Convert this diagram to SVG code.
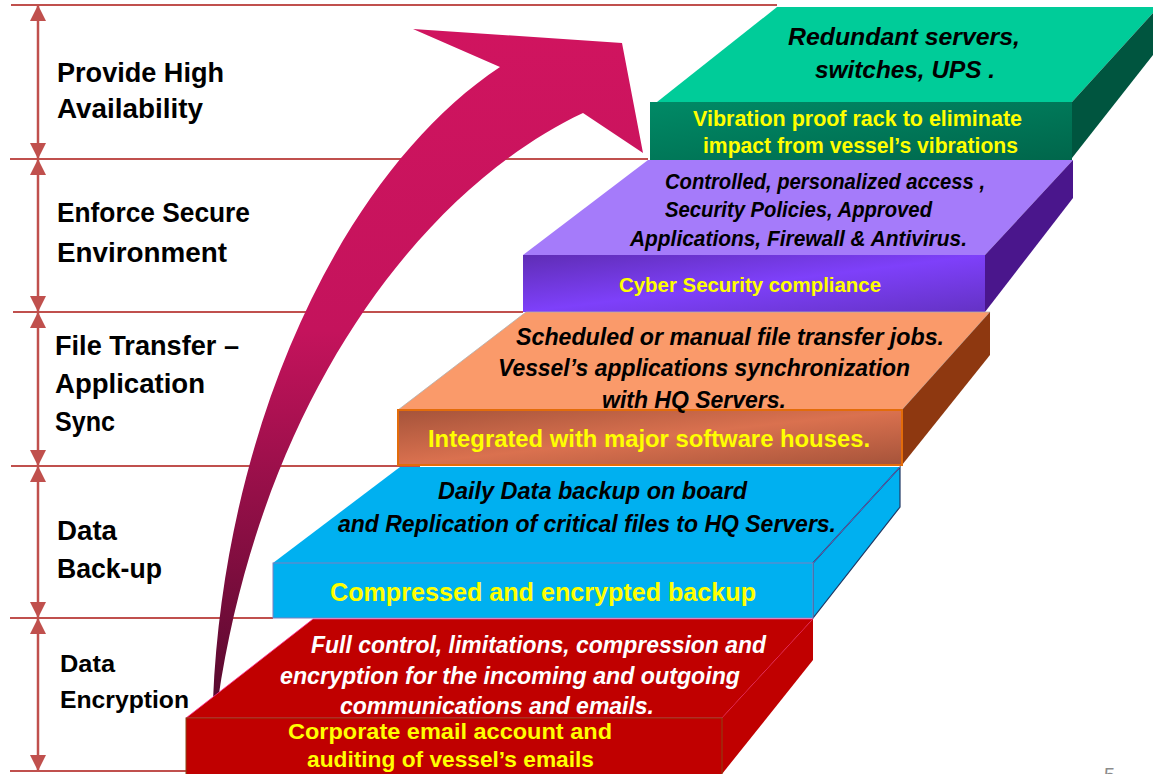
<svg xmlns="http://www.w3.org/2000/svg" width="1153" height="774" viewBox="0 0 1153 774">
<defs>
<style>
text{font-family:"Liberation Sans",Arial,sans-serif;font-weight:bold}
.lbl{font-size:27px;fill:#000}
.lbl2{font-size:24px;fill:#000}
.top{font-style:italic;font-size:23px;fill:#000}
.topw{font-style:italic;font-size:23px;fill:#fff}
.front{font-size:22px;fill:#ffff00}
.div{stroke:#C0504D;stroke-width:2;fill:none}
.dim{stroke:#C0504D;stroke-width:2.5;fill:none;marker-start:url(#ah);marker-end:url(#ah)}
</style>
<marker id="ah" viewBox="0 0 16 16" refX="15" refY="8" markerWidth="16" markerHeight="16" markerUnits="userSpaceOnUse" orient="auto-start-reverse">
<path d="M0,0 L16,8 L0,16 Z" fill="#C0504D"/>
</marker>
<linearGradient id="arrowGrad" gradientUnits="userSpaceOnUse" x1="0" y1="30" x2="0" y2="700">
<stop offset="0" stop-color="#D0145F"/>
<stop offset="0.45" stop-color="#C4135C"/>
<stop offset="1" stop-color="#580A2E"/>
</linearGradient>
<linearGradient id="greenFront" x1="0" y1="0" x2="1" y2="1">
<stop offset="0" stop-color="#008A66"/>
<stop offset="1" stop-color="#00664B"/>
</linearGradient>
<linearGradient id="purpleFront" x1="0" y1="0" x2="1" y2="1">
<stop offset="0" stop-color="#5F2DB5"/>
<stop offset="0.5" stop-color="#7E40FA"/>
<stop offset="1" stop-color="#6432C4"/>
</linearGradient>
<linearGradient id="orangeFront" x1="0" y1="0" x2="1" y2="1">
<stop offset="0" stop-color="#A5533A"/>
<stop offset="0.5" stop-color="#DA714F"/>
<stop offset="1" stop-color="#A5533A"/>
</linearGradient>
</defs>

<rect width="1153" height="774" fill="#fff"/>

<g id="dividers">
<line class="div" x1="11" y1="5" x2="777" y2="5"/>
<line class="div" x1="10" y1="159" x2="648" y2="159"/>
<line class="div" x1="13" y1="312" x2="523" y2="312"/>
<line class="div" x1="11" y1="466" x2="420" y2="466"/>
<line class="div" x1="10" y1="618" x2="273" y2="618"/>
<line class="div" x1="10" y1="771" x2="188" y2="771"/>
</g>

<g id="connectors">
<line class="dim" x1="38" y1="6" x2="38" y2="158"/>
<line class="dim" x1="38" y1="160" x2="38" y2="311"/>
<line class="dim" x1="38" y1="313" x2="38" y2="465"/>
<line class="dim" x1="38" y1="467" x2="38" y2="617"/>
<line class="dim" x1="38" y1="619" x2="38" y2="770"/>
<path id="growth-arrow" d="M213,700 C225,420 345,170 500,67 L413,29 L622,43 L643,153 L583,113 C420,190 262,400 218,700 Z" fill="url(#arrowGrad)"/>
</g>

<g id="label-availability"><text class="lbl" x="57" y="82" textLength="167" lengthAdjust="spacingAndGlyphs">Provide High</text><text class="lbl" x="57" y="118" textLength="146" lengthAdjust="spacingAndGlyphs">Availability</text></g>
<g id="label-secure"><text class="lbl" x="57" y="222" textLength="193" lengthAdjust="spacingAndGlyphs">Enforce Secure</text><text class="lbl" x="57" y="262" textLength="170" lengthAdjust="spacingAndGlyphs">Environment</text></g>
<g id="label-transfer"><text class="lbl" x="55" y="355" textLength="184" lengthAdjust="spacingAndGlyphs">File Transfer –</text><text class="lbl" x="55" y="393" textLength="150" lengthAdjust="spacingAndGlyphs">Application</text><text class="lbl" x="55" y="431" textLength="60" lengthAdjust="spacingAndGlyphs">Sync</text></g>
<g id="label-backup"><text class="lbl" x="57" y="540" textLength="60" lengthAdjust="spacingAndGlyphs">Data</text><text class="lbl" x="57" y="578" textLength="105" lengthAdjust="spacingAndGlyphs">Back-up</text></g>
<g id="label-encryption"><text class="lbl2" x="60" y="672" textLength="55" lengthAdjust="spacingAndGlyphs">Data</text><text class="lbl2" x="60" y="708" textLength="129" lengthAdjust="spacingAndGlyphs">Encryption</text></g>

<g id="step-green">
<polygon points="657,102 777,7 1153,7 1153,13 1072,102" fill="#00CC99"/>
<polygon points="1072,102 1153,13 1153,55 1072,158" fill="#00553F"/>
<rect x="650" y="102" width="422" height="58" fill="url(#greenFront)"/>
<text class="top" x="788" y="45" textLength="232" lengthAdjust="spacingAndGlyphs" style="font-size:24px">Redundant servers,</text>
<text class="top" x="815" y="78" textLength="180" lengthAdjust="spacingAndGlyphs" style="font-size:24px">switches, UPS .</text>
<text class="front" x="693" y="126" textLength="329" lengthAdjust="spacingAndGlyphs">Vibration proof rack to eliminate</text>
<text class="front" x="703" y="153" textLength="315" lengthAdjust="spacingAndGlyphs">impact  from vessel’s vibrations</text>
</g>

<g id="step-purple">
<polygon points="523,255 648,160 1073,160 985,255" fill="#A57BFA"/>
<polygon points="985,255 1073,160 1073,198 985,312" fill="#4A168C"/>
<rect x="523" y="255" width="462" height="57" fill="url(#purpleFront)"/>
<text class="top" x="665" y="189" textLength="320" lengthAdjust="spacingAndGlyphs" style="font-size:22px">Controlled, personalized access ,</text>
<text class="top" x="665" y="217" textLength="267" lengthAdjust="spacingAndGlyphs" style="font-size:22px">Security Policies, Approved</text>
<text class="top" x="630" y="246" textLength="337" lengthAdjust="spacingAndGlyphs" style="font-size:22px">Applications, Firewall &amp; Antivirus.</text>
<text class="front" x="619" y="292" textLength="262" lengthAdjust="spacingAndGlyphs" style="font-size:21px">Cyber Security compliance</text>
</g>

<g id="step-orange">
<polygon points="398,410 526,312 990,312 902,410" fill="#FA9A6A" stroke="#B0B0B0" stroke-width="0.8"/>
<polygon points="902,410 990,312 990,355 902,465" fill="#8E3810"/>
<rect x="398" y="410" width="504" height="55" fill="url(#orangeFront)" stroke="#E36C0A" stroke-width="2"/>
<text class="top" x="516" y="345" textLength="428" lengthAdjust="spacingAndGlyphs">Scheduled or manual file transfer jobs.</text>
<text class="top" x="498" y="376" textLength="412" lengthAdjust="spacingAndGlyphs">Vessel’s applications synchronization</text>
<text class="top" x="602" y="408" textLength="184" lengthAdjust="spacingAndGlyphs">with HQ Servers.</text>
<text class="front" x="428" y="447" textLength="442" lengthAdjust="spacingAndGlyphs" style="font-size:23px">Integrated with major software houses.</text>
</g>

<g id="step-blue">
<polygon points="273,563 400,467 900,467 813,563" fill="#00B0F0"/>
<polygon points="813,563 900,467 900,507 813,618" fill="#00B0F0" stroke="#1F3864" stroke-width="1.2"/>
<line x1="813" y1="563" x2="900" y2="467" stroke="#7F5FBF" stroke-width="0.8"/>
<rect x="273" y="563" width="540" height="55" fill="#00B0F0" stroke="#7F7FBF" stroke-width="1"/>
<text class="top" x="438" y="499" textLength="309" lengthAdjust="spacingAndGlyphs">Daily Data backup on board</text>
<text class="top" x="338" y="532" textLength="498" lengthAdjust="spacingAndGlyphs">and Replication of critical files to HQ Servers.</text>
<text class="front" x="330" y="601" textLength="426" lengthAdjust="spacingAndGlyphs" style="font-size:25px">Compressed and encrypted backup</text>
</g>

<g id="step-red">
<polygon points="186,718 313,619 813,619 722,718" fill="#C00000" stroke="#FF3399" stroke-width="0.8"/>
<polygon points="722,718 813,619 813,660 722,774" fill="#C00000"/>
<rect x="186" y="718" width="536" height="60" fill="#C00000" stroke="#8B4513" stroke-width="1"/>
<text class="topw" x="311" y="653" textLength="455" lengthAdjust="spacingAndGlyphs">Full control, limitations, compression and</text>
<text class="topw" x="280" y="684" textLength="460" lengthAdjust="spacingAndGlyphs">encryption for the incoming and outgoing</text>
<text class="topw" x="340" y="714" textLength="314" lengthAdjust="spacingAndGlyphs">communications and emails.</text>
<text class="front" x="288" y="739" textLength="324" lengthAdjust="spacingAndGlyphs">Corporate email account  and</text>
<text class="front" x="307" y="767" textLength="287" lengthAdjust="spacingAndGlyphs">auditing of vessel’s emails</text>
</g>

<text x="1104" y="782" style="font-weight:normal;font-size:20px;fill:#8C8C8C">5</text>
</svg>
